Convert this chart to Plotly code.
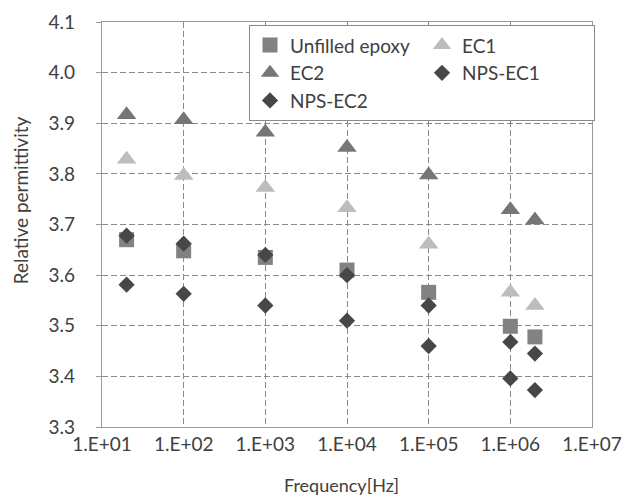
import plotly.graph_objects as go

freq = [20, 100, 1000, 10000, 100000, 1000000, 2000000]
unfilled = [3.670, 3.648, 3.635, 3.610, 3.566, 3.499, 3.478]
ec1 = [3.829, 3.797, 3.773, 3.733, 3.661, 3.566, 3.540]
ec2 = [3.917, 3.907, 3.882, 3.852, 3.798, 3.729, 3.709]
nps_ec1 = [3.678, 3.662, 3.640, 3.600, 3.540, 3.468, 3.445]
nps_ec2 = [3.581, 3.563, 3.540, 3.510, 3.460, 3.396, 3.373]

x_tickvals = [1e1, 1e2, 1e3, 1e4, 1e5, 1e6, 1e7]
x_ticktext = ["1.E+01", "1.E+02", "1.E+03", "1.E+04", "1.E+05", "1.E+06", "1.E+07"]

FONT = "Lato"
TXT = "#404040"

series = [
    ("Unfilled epoxy", unfilled, "square", 15, "#828282"),
    ("EC1", ec1, "triangle-up", 17, "#bdbdbd"),
    ("EC2", ec2, "triangle-up", 17, "#767676"),
    ("NPS-EC1", nps_ec1, "diamond", 12.5, "#474747"),
    ("NPS-EC2", nps_ec2, "diamond", 12.5, "#474747"),
]

fig = go.Figure()
for name, vals, sym, size, col in series:
    fig.add_trace(go.Scatter(
        x=freq, y=vals, mode="markers", name=name,
        marker=dict(symbol=sym, size=size, color=col, line=dict(width=0)),
    ))

GRID = dict(showgrid=True, gridcolor="#8a8a8a", griddash="6px,3px", gridwidth=1.4,
            showline=True, linecolor="#9a9a9a", linewidth=1.3, mirror=True,
            zeroline=False, automargin=False)

fig.update_layout(
    width=625, height=497,
    margin=dict(l=102, r=33, t=22, b=70),
    paper_bgcolor="white", plot_bgcolor="white",
    font=dict(family=FONT, color=TXT, size=19),
    showlegend=True,
    legend=dict(
        orientation="h", x=0.30, y=0.992, xanchor="left", yanchor="top",
        entrywidth=127, entrywidthmode="pixels",
        bordercolor="#8a8a8a", borderwidth=1, bgcolor="white",
        font=dict(family=FONT, size=19, color=TXT),
        itemclick=False,
    ),
    xaxis=dict(
        type="log", range=[1, 7],
        tickvals=x_tickvals, ticktext=x_ticktext,
        ticks="",
        tickfont=dict(family=FONT, size=19, color=TXT),
        **GRID,
    ),
    yaxis=dict(
        range=[3.3, 4.1], dtick=0.1, tick0=3.3, tickformat=".1f",
        ticks="outside", ticklen=5, tickcolor="#9a9a9a",
        ticklabelstandoff=17,
        tickfont=dict(family=FONT, size=19, color=TXT),
        **GRID,
    ),
    annotations=[
        dict(text="Relative permittivity", xref="paper", yref="paper",
             x=-0.167, y=0.56, xanchor="center", yanchor="middle",
             textangle=-90, showarrow=False,
             font=dict(family=FONT, size=19, color=TXT)),
        dict(text="Frequency[Hz]", xref="paper", yref="paper",
             x=0.488, y=-0.142, xanchor="center", yanchor="middle",
             showarrow=False,
             font=dict(family=FONT, size=18, color=TXT)),
    ],
)

fig.write_html("out.html", config={"displayModeBar": False},
               post_script="document.body.style.margin='0';")
